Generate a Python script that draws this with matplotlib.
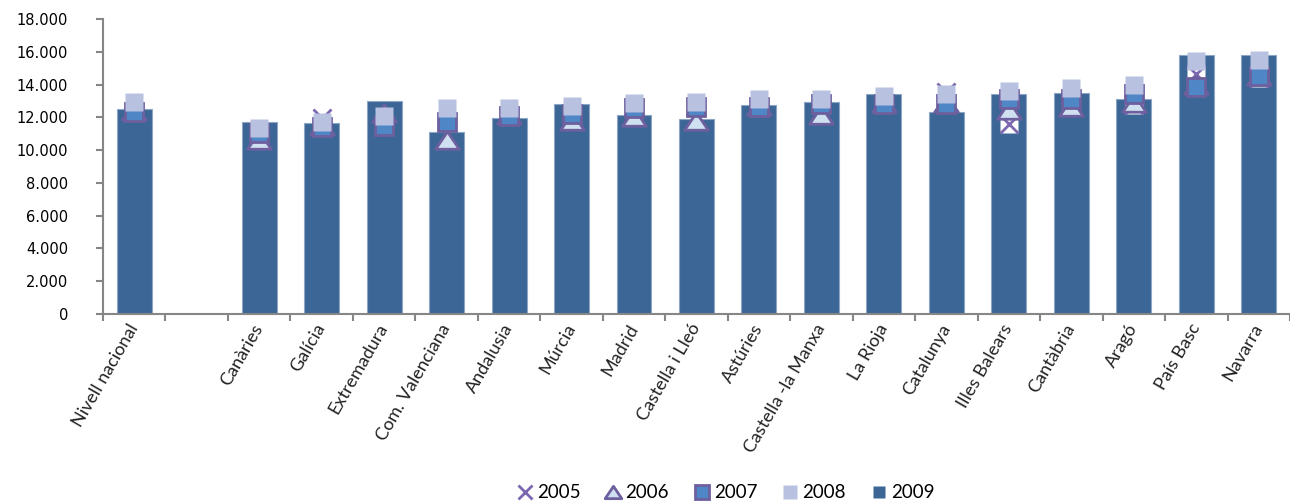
import numpy as np
import matplotlib
matplotlib.use('Agg')
import matplotlib.pyplot as plt
from matplotlib.path import Path
from matplotlib.lines import Line2D
from matplotlib.ticker import FuncFormatter
from matplotlib.transforms import ScaledTranslation

plt.rcParams['font.family'] = ['Lato', 'DejaVu Sans']

categories = ['Nivell nacional', '', 'Canàries', 'Galícia', 'Extremadura',
              'Com. Valenciana', 'Andalusia', 'Múrcia', 'Madrid',
              'Castella i Lleó', 'Astúries', 'Castella -la Manxa', 'La Rioja',
              'Catalunya', 'Illes Balears', 'Cantàbria', 'Aragó', 'País Basc',
              'Navarra']

nan = np.nan
v2005 = [12330, nan, 11070, 11980, 11500, 11700, 12080, 12200, 12560, 12660,
         12660, 12810, 12820, 13560, 11590, 13115, 12750, 14680, 14400]
v2006 = [12400, nan, 10620, 11500, 12250, 10610, 12150, 11770, 12020, 11790,
         12700, 12140, 12900, 12900, 12440, 12660, 12870, 13950, 14500]
v2007 = [12330, nan, 11070, 11440, 11500, 11700, 12080, 12200, 12560, 12660,
         12660, 12810, 12820, 12810, 13115, 13115, 13420, 13870, 14550]
v2008 = [12950, nan, 11330, 11710, 12090, 12590, 12600, 12700, 12900, 12950,
         13100, 13100, 13330, 13410, 13590, 13816, 13957, 15443, 15513]
v2009 = [12545, nan, 11737, 11650, 13030, 11110, 11960, 12830, 12120, 11880,
         12750, 12930, 13420, 12320, 13420, 13500, 13130, 15815, 15825]

c_bar = '#3b6696'
c_2007 = '#4f86c6'
c_2008 = '#b8c2e0'
c_tri = '#cfe0f0'
c_edge = '#6e5f9e'
c_x = '#7b68b0'
c_axis = '#868686'

tri = Path([(-1, -0.74), (1, -0.74), (0, 0.74), (-1, -0.74)],
           [Path.MOVETO, Path.LINETO, Path.LINETO, Path.CLOSEPOLY])

fig = plt.figure(figsize=(12.9, 5.04), dpi=100)
ax = fig.add_axes([0.0798, 0.377, 0.9202, 0.585])

x = np.arange(len(categories))
ax.bar(x, v2009, width=0.56, color=c_bar, edgecolor='#8ea6c6', linewidth=0.8, zorder=2)

# 2005: x marker over a white square
ax.plot(x, v2005, ls='none', marker='s', ms=13, mfc='white', mec='none', zorder=3)
ax.plot(x, v2005, ls='none', marker='x', ms=13, mew=2, color=c_x, zorder=3)
ax.plot(x, v2006, ls='none', marker=tri, ms=17, mfc=c_tri, mec=c_edge, mew=2, zorder=4)
ax.plot(x, v2007, ls='none', marker='s', ms=13.5, mfc=c_2007, mec=c_edge, mew=2, zorder=5)
ax.plot(x, v2008, ls='none', marker='s', ms=13.5, mfc=c_2008, mec='none', zorder=6)

ax.set_xlim(-0.5, len(categories) - 0.5)
ax.set_ylim(0, 18000)
ax.set_yticks(range(0, 18001, 2000))
ax.yaxis.set_major_formatter(FuncFormatter(lambda v, p: f'{int(v):,}'.replace(',', '.')))

ax.set_xticks(x)
ax.set_xticklabels(categories, rotation=60, ha='right', va='center',
                   rotation_mode='anchor', fontsize=13, color='#222222')
shift = ScaledTranslation(0.09, 0.02, fig.dpi_scale_trans)
for lab in ax.get_xticklabels():
    lab.set_transform(lab.get_transform() + shift)
ax.set_xticks(np.arange(-0.5, len(categories)), minor=True)
ax.tick_params(axis='x', which='major', length=0, pad=8)
ax.tick_params(axis='x', which='minor', length=5, color=c_axis, width=1.5)
ax.tick_params(axis='y', length=5, color=c_axis, width=1.5, labelsize=10.5, pad=20)
for lab in ax.get_yticklabels():
    lab.set_family('DejaVu Sans')

for s in ['top', 'right']:
    ax.spines[s].set_visible(False)
for s in ['left', 'bottom']:
    ax.spines[s].set_color(c_axis)
    ax.spines[s].set_linewidth(1.5)

handles = [
    Line2D([], [], ls='none', marker='x', ms=10, mew=2, color=c_x),
    Line2D([], [], ls='none', marker=tri, ms=12, mfc=c_tri, mec=c_edge, mew=2),
    Line2D([], [], ls='none', marker='s', ms=10, mfc=c_2007, mec=c_edge, mew=2),
    Line2D([], [], ls='none', marker='s', ms=10, mfc=c_2008, mec='none'),
    Line2D([], [], ls='none', marker='s', ms=8, mfc=c_bar, mec='none'),
]
fig.legend(handles, ['2005', '2006', '2007', '2008', '2009'], ncol=5,
           loc='center', bbox_to_anchor=(0.562, 0.022), frameon=False,
           fontsize=13.5, handlelength=1, handletextpad=0.15, columnspacing=1.25)

fig.savefig('out.png', dpi=100)
